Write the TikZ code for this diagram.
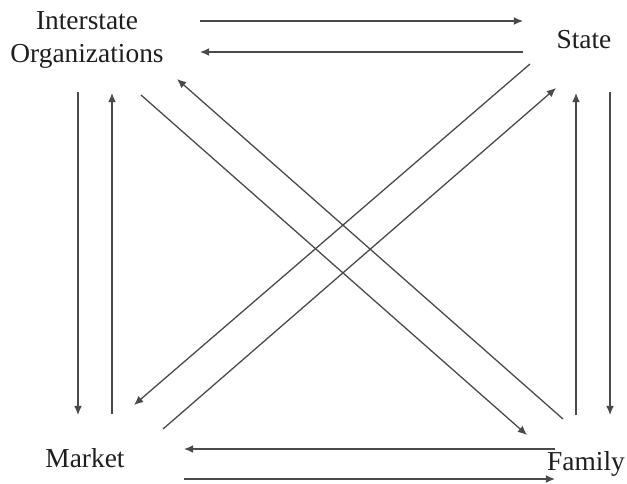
\documentclass[tikz,border=0pt]{standalone}
\usepackage{fontspec}
\setmainfont{Liberation Serif}
\usetikzlibrary{arrows.meta,calc}
\definecolor{Ink}{HTML}{1E1E1E}
\definecolor{Wire}{HTML}{4A4A4A}
\tikzset{
  sector/.style={
    anchor=base, inner sep=0pt, text=Ink, align=center,
    font=\fontsize{13.7}{16.5}\selectfont
  },
  flow/.style={-{Latex[length=4.6pt,width=4pt]}, line width=0.65pt, draw=Wire}
}
\begin{document}
\begin{tikzpicture}[x=0.5pt,y=-0.5pt]
        \useasboundingbox (0,0) rectangle (627,483);
        \node[sector] (io) at (87,62) {Interstate\\Organizations};
        \node[sector] (state) at (584,48) {State};
        \node[sector] (market) at (85,467) {Market};
        \node[sector] (family) at (586,470) {Family};
        % top and bottom pairs
        \draw[flow] ($(io.base)+(113,-41)$)--($(state.base)+(-61,-27)$);
        \draw[flow] ($(state.base)+(-61,4)$)--($(io.base)+(113,-10)$);
        \draw[flow] ($(family.base)+(-31,-21)$)--($(market.base)+(99,-18)$);
        \draw[flow] ($(market.base)+(99,12)$)--($(family.base)+(-31,9)$);
        % left and right pairs
        \draw[flow] ($(io.base)+(-9,30)$)--($(market.base)+(-7,-52)$);
        \draw[flow] ($(market.base)+(27,-53)$)--($(io.base)+(25,31)$);
        \draw[flow] ($(family.base)+(-10,-55)$)--($(state.base)+(-8,45)$);
        \draw[flow] ($(state.base)+(26,44)$)--($(family.base)+(24,-55)$);
        % diagonals
        \draw[flow] ($(io.base)+(54,33)$)--($(family.base)+(-59,-35)$);
        \draw[flow] ($(family.base)+(-23,-51)$)--($(io.base)+(90,17)$);
        \draw[flow] ($(state.base)+(-54,16)$)--($(market.base)+(49,-62)$);
        \draw[flow] ($(market.base)+(78,-38)$)--($(state.base)+(-28,40)$);
      \end{tikzpicture}
\end{document}
